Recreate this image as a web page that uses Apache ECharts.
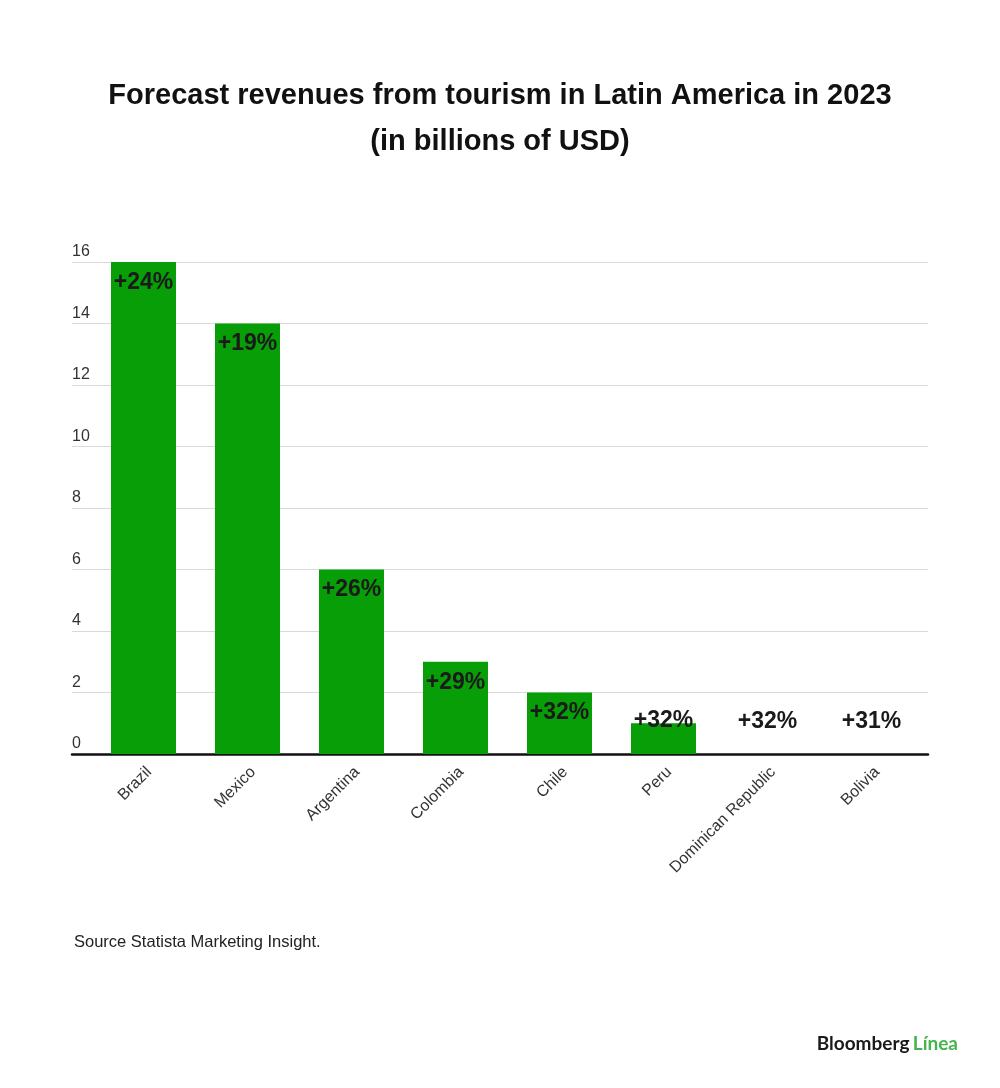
<!DOCTYPE html>
<html>
<head>
<meta charset="utf-8">
<script src="https://cdn.jsdelivr.net/npm/echarts@6/dist/echarts.min.js"></script>
<style>
  html, body { margin: 0; padding: 0; background: #fff; }
  #chart { width: 1000px; height: 1088px; }
</style>
</head>
<body>
<div id="chart"></div>
<script>
var countries = ['Brazil', 'Mexico', 'Argentina', 'Colombia', 'Chile', 'Peru', 'Dominican Republic', 'Bolivia'];
var revenues = [16, 14, 6, 3, 2, 1, 0, 0];
var growth = ['+24%', '+19%', '+26%', '+29%', '+32%', '+32%', '+32%', '+31%'];
var yTicks = [0, 2, 4, 6, 8, 10, 12, 14, 16];

var myChart = echarts.init(document.getElementById('chart'));

// small bars get their label above the bar, the rest inside the top
var barData = revenues.map(function(v, i) {
    var lbl = { formatter: growth[i] };
    if (v >= 1.5) {
        lbl.position = 'insideTop';
        lbl.distance = 9;
    } else {
        lbl.position = 'top';
        lbl.distance = v === 0 ? 21 : -9;
    }
    return { value: v, label: lbl };
});

var option = {
    backgroundColor: '#fff',
    animation: false,
    title: {
        left: 'center',
        top: 68,
        text: 'Forecast revenues from tourism in Latin America in 2023\n(in billions of USD)',
        textStyle: {
            fontFamily: 'Liberation Sans',
            fontWeight: 'bold',
            fontSize: 29,
            lineHeight: 46,
            color: '#111'
        }
    },
    grid: [
        { left: 72, right: 72, top: 262, bottom: 334 },
        { left: 91.5, right: 76.5, top: 262, bottom: 334 }
    ],
    xAxis: [{
        gridIndex: 0,
        type: 'value',
        min: 0,
        max: 1,
        axisLine: { show: true, lineStyle: { color: '#111', width: 2.5 } },
        axisTick: { show: false },
        axisLabel: { show: false },
        splitLine: { show: false }
    }, {
        gridIndex: 1,
        type: 'category',
        data: countries,
        axisLine: { show: false },
        axisTick: { show: false },
        axisLabel: {
            rotate: 45,
            margin: 10,
            interval: 0,
            verticalAlign: 'top',
            color: '#333',
            fontFamily: 'Liberation Sans',
            fontSize: 16
        }
    }],
    yAxis: [{
        gridIndex: 0,
        type: 'value',
        min: yTicks[0],
        max: yTicks[yTicks.length - 1],
        interval: 2,
        axisLine: { show: false },
        axisTick: { show: false },
        axisLabel: {
            inside: true,
            margin: 0,
            verticalAlign: 'bottom',
            padding: [0, 0, 2, 0],
            color: '#333',
            fontFamily: 'Liberation Sans',
            fontSize: 16
        },
        splitLine: { lineStyle: { color: '#d9d9d9', width: 1 } }
    }, {
        gridIndex: 1,
        type: 'value',
        min: yTicks[0],
        max: yTicks[yTicks.length - 1],
        show: false
    }],
    series: [{
        type: 'bar',
        xAxisIndex: 1,
        yAxisIndex: 1,
        barWidth: 65,
        itemStyle: { color: '#079e07' },
        label: {
            show: true,
            color: '#1a1a1a',
            fontFamily: 'Liberation Sans',
            fontWeight: 'bold',
            fontSize: 23
        },
        data: barData
    }],
    graphic: [{
        type: 'text',
        left: 74,
        top: 934,
        style: {
            text: 'Source Statista Marketing Insight.',
            fill: '#222',
            font: '16.5px "Liberation Sans"'
        }
    }, {
        type: 'text',
        right: 42,
        top: 1034,
        style: {
            text: '{a|Bloomberg} {b|Línea}',
            rich: {
                a: { fill: '#1a1a1a', fontFamily: 'Lato', fontWeight: 'bold', fontSize: 19 },
                b: { fill: '#43b549', fontFamily: 'Lato', fontWeight: 'bold', fontSize: 19 }
            }
        }
    }]
};
myChart.setOption(option);
</script>
</body>
</html>
